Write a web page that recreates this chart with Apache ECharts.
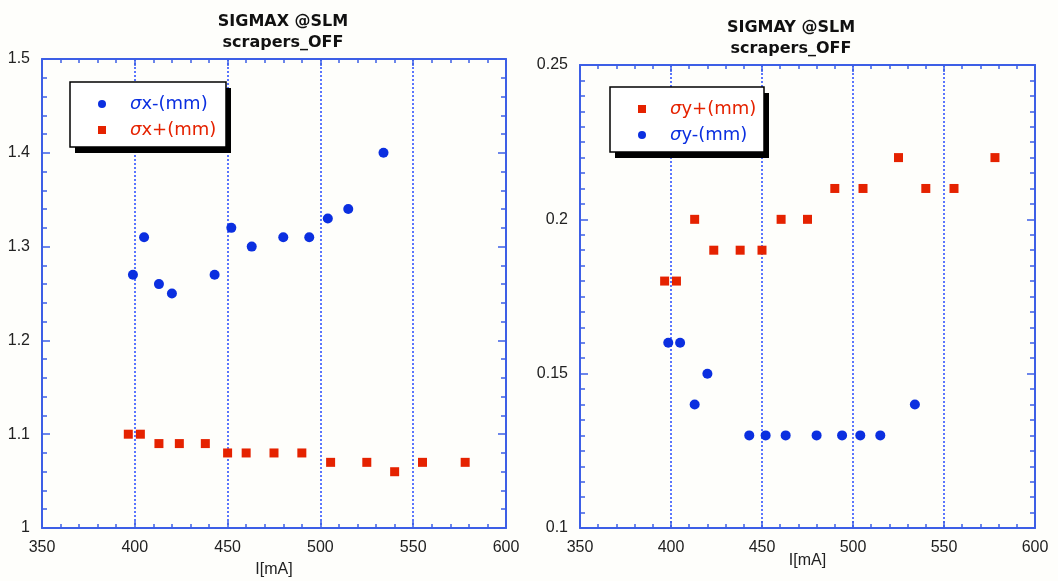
<!DOCTYPE html>
<html>
<head>
<meta charset="utf-8">
<script src="https://cdn.jsdelivr.net/npm/echarts@6/dist/echarts.min.js"></script>
<style>
  html, body { margin: 0; padding: 0; background: #fefefb; }
  #main { width: 1058px; height: 581px; }
</style>
</head>
<body>
<div id="main"></div>
<script>
// SIGMAX data
const currentXMinus = [399, 405, 413, 420, 443, 452, 463, 480, 494, 504, 515, 534];
const sigmaXMinus = [1.27, 1.31, 1.26, 1.25, 1.27, 1.32, 1.30, 1.31, 1.31, 1.33, 1.34, 1.40];
const currentXPlus = [396.5, 403, 413, 424, 438, 450, 460, 475, 490, 505.5, 525, 540, 555, 578];
const sigmaXPlus = [1.10, 1.10, 1.09, 1.09, 1.09, 1.08, 1.08, 1.08, 1.08, 1.07, 1.07, 1.06, 1.07, 1.07];

// SIGMAY data
const currentYPlus = [396.5, 403, 413, 423.5, 438, 450, 460.5, 475, 490, 505.5, 525, 540, 555.5, 578];
const sigmaYPlus = [0.18, 0.18, 0.20, 0.19, 0.19, 0.19, 0.20, 0.20, 0.21, 0.21, 0.22, 0.21, 0.21, 0.22];
const currentYMinus = [398.5, 405, 413, 420, 443, 452, 463, 480, 494, 504, 515, 534];
const sigmaYMinus = [0.16, 0.16, 0.14, 0.15, 0.13, 0.13, 0.13, 0.13, 0.13, 0.13, 0.13, 0.14];

const titles = [["SIGMAX @SLM", "scrapers_OFF"], ["SIGMAY @SLM", "scrapers_OFF"]];
const xRange = [350, 600];
const yRangeX = [1.0, 1.5];
const yRangeY = [0.1, 0.25];

const BLUE = "#0b2fe0";
const RED = "#e52200";
const AXIS = "#3d5fe6";
const GRIDLINE = "#2448ff";
const LABEL_FONT = "Liberation Sans";

function pairs(xs, ys) {
  return xs.map((x, i) => [x, ys[i]]);
}

function xAxisPair(gridIndex) {
  const common = {
    type: "value",
    gridIndex: gridIndex,
    min: xRange[0],
    max: xRange[1],
    interval: 50,
    axisLine: { show: true, onZero: false, lineStyle: { color: AXIS, width: 2 } },
    axisTick: { show: true, inside: true, length: 7, lineStyle: { color: AXIS, width: 1.5 } },
    minorTick: { show: true, splitNumber: 5, length: 4, lineStyle: { color: AXIS, width: 1.5 } },
  };
  return [
    Object.assign({}, common, {
      position: "bottom",
      name: "I[mA]",
      nameLocation: "middle",
      nameMoveOverlap: false,
      nameGap: gridIndex === 0 ? 34 : 25,
      nameTextStyle: { fontFamily: LABEL_FONT, fontSize: 16, color: "#222" },
      axisLabel: { fontFamily: LABEL_FONT, fontSize: 16, color: "#222", margin: 12 },
      splitLine: { show: true, lineStyle: { color: GRIDLINE, width: 1.5, type: [2, 2] } },
    }),
    Object.assign({}, common, {
      position: "top",
      axisLabel: { show: false },
      splitLine: { show: false },
    }),
  ];
}

function yAxisPair(gridIndex, range, interval, minorSplit) {
  const common = {
    type: "value",
    gridIndex: gridIndex,
    min: range[0],
    max: range[1],
    interval: interval,
    splitLine: { show: false },
    axisLine: { show: true, onZero: false, lineStyle: { color: AXIS, width: 2 } },
    axisTick: { show: true, inside: true, length: 8, lineStyle: { color: AXIS, width: 1.5 } },
    minorTick: { show: true, splitNumber: minorSplit, length: 5, lineStyle: { color: AXIS, width: 1.5 } },
  };
  return [
    Object.assign({}, common, {
      position: "left",
      axisLabel: { fontFamily: LABEL_FONT, fontSize: 16, color: "#222", margin: 12 },
    }),
    Object.assign({}, common, {
      position: "right",
      axisLabel: { show: false },
    }),
  ];
}

function legendFor(names, colors, icons, left, top) {
  return {
    orient: "vertical",
    left: left,
    top: top,
    data: names.map((n, i) => ({ name: n, icon: icons[i], textStyle: { color: colors[i] } })),
    itemWidth: 8,
    itemHeight: 8,
    itemGap: 8,
    padding: [10, 12, 9, 28],
    selectedMode: false,
    formatter: (n) => "{s|σ}" + n.slice(1),
    textStyle: {
      fontFamily: "DejaVu Sans",
      fontSize: 18,
      padding: [0, 0, 0, 19],
      rich: { s: { fontStyle: "italic", fontFamily: "DejaVu Sans", fontSize: 18 } },
    },
  };
}

// white legend frame with a hard black drop shadow
function legendFrame(x, y, w, h) {
  return [
    { type: "rect", shape: { x: x + 5, y: y + 6, width: w, height: h }, style: { fill: "#000" }, z: 3 },
    { type: "rect", shape: { x: x, y: y, width: w, height: h }, style: { fill: "#fff", stroke: "#000", lineWidth: 1.5 }, z: 3 },
  ];
}

function titleFor(lines, x, top) {
  return {
    text: lines.join("\n"),
    left: x,
    top: top,
    textAlign: "center",
    padding: 0,
    textStyle: { fontFamily: "DejaVu Sans", fontWeight: "bold", fontSize: 16, color: "#111", lineHeight: 21 },
  };
}

const chart = echarts.init(document.getElementById("main"));

const ax0 = xAxisPair(0), ax1 = xAxisPair(1);
const ay0 = yAxisPair(0, yRangeX, 0.1, 5);
const ay1 = yAxisPair(1, yRangeY, 0.05, 10);

const option = {
  backgroundColor: "#fefefb",
  animation: false,
  title: [titleFor(titles[0], 283, 11), titleFor(titles[1], 791, 17)],
  grid: [
    { left: 42, top: 59, width: 464, height: 469, outerBoundsMode: "none" },
    { left: 580, top: 65, width: 455, height: 463, outerBoundsMode: "none" },
  ],
  xAxis: [ax0[0], ax0[1], ax1[0], ax1[1]],
  yAxis: [ay0[0], ay0[1], ay1[0], ay1[1]],
  graphic: legendFrame(70, 82, 156, 65).concat(legendFrame(610, 87, 154, 65)),
  legend: [
    legendFor(["σx-(mm)", "σx+(mm)"], [BLUE, RED], ["circle", "rect"], 70, 85),
    legendFor(["σy+(mm)", "σy-(mm)"], [RED, BLUE], ["rect", "circle"], 610, 90),
  ],
  series: [
    {
      name: "σx-(mm)", type: "scatter", xAxisIndex: 0, yAxisIndex: 0,
      symbol: "circle", symbolSize: 10, itemStyle: { color: BLUE, opacity: 1 },
      data: pairs(currentXMinus, sigmaXMinus),
    },
    {
      name: "σx+(mm)", type: "scatter", xAxisIndex: 0, yAxisIndex: 0,
      symbol: "rect", symbolSize: 9, itemStyle: { color: RED, opacity: 1 },
      data: pairs(currentXPlus, sigmaXPlus),
    },
    {
      name: "σy+(mm)", type: "scatter", xAxisIndex: 2, yAxisIndex: 2,
      symbol: "rect", symbolSize: 9, itemStyle: { color: RED, opacity: 1 },
      data: pairs(currentYPlus, sigmaYPlus),
    },
    {
      name: "σy-(mm)", type: "scatter", xAxisIndex: 2, yAxisIndex: 2,
      symbol: "circle", symbolSize: 10, itemStyle: { color: BLUE, opacity: 1 },
      data: pairs(currentYMinus, sigmaYMinus),
    },
  ],
};

chart.setOption(option);
</script>
</body>
</html>
